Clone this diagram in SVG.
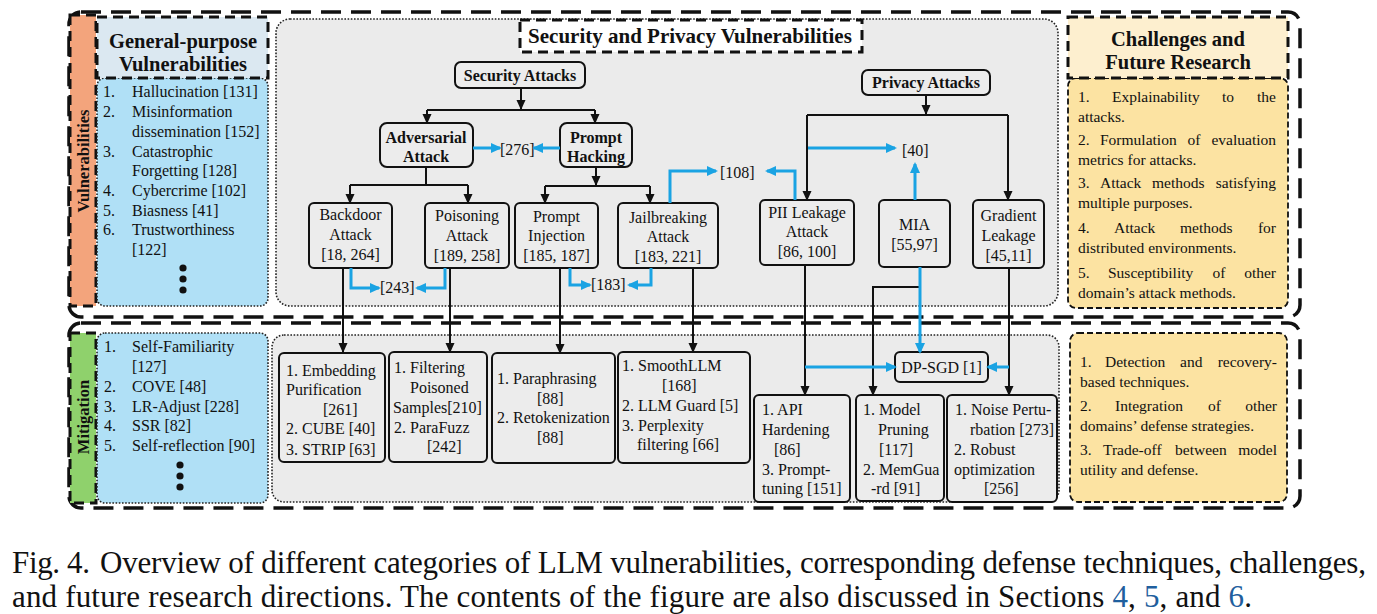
<svg xmlns="http://www.w3.org/2000/svg" width="1377" height="614" viewBox="0 0 1377 614">
<defs>
<marker id="ak" markerUnits="userSpaceOnUse" markerWidth="10" markerHeight="10" refX="9" refY="5" orient="auto"><path d="M0,0.5 L10,5 L0,9.5 z" fill="#111"/></marker>
<marker id="ab" markerUnits="userSpaceOnUse" markerWidth="11" markerHeight="11" refX="9" refY="5.5" orient="auto"><path d="M0,0.5 L11,5.5 L0,10.5 z" fill="#1aa3e3"/></marker>
<style>
.t{font-family:"Liberation Serif","Times New Roman",serif;font-size:16px;fill:#111}
.s{font-size:15.5px}
.b{font-weight:bold}
.h{font-size:20.5px;font-weight:bold}
.c{text-anchor:middle}
.e{text-anchor:end}
.node{fill:#ececec;stroke:#111;stroke-width:2}
.blk{stroke:#111;stroke-width:2;fill:none}
.blu{stroke:#1aa3e3;stroke-width:3;fill:none}
.outer{fill:none;stroke:#111;stroke-width:3.5;stroke-dasharray:20 10}
.thick{stroke:#111;stroke-width:3;stroke-dasharray:10 6}
.dot{stroke:#222;stroke-width:1.6;stroke-dasharray:1.6 1.6}
.thin{stroke:#111;stroke-width:1.8;stroke-dasharray:6 3}
.cap{font-family:"Liberation Serif","Times New Roman",serif;font-size:31px;fill:#111}
</style>
</defs>
<rect width="1377" height="614" fill="#fff"/>

<g id="containers">
<rect class="outer" x="69" y="12" width="1231" height="305" rx="12"/>
<rect class="outer" x="69" y="323" width="1231" height="185" rx="12"/>
<rect x="276" y="19" width="782" height="287" rx="14" fill="#ebebeb" class="dot"/>
<rect x="272" y="335" width="787" height="167" rx="12" fill="#ebebeb" class="dot"/>
</g>

<g id="label-vulnerabilities">
<rect x="70" y="15" width="26" height="291" fill="#f3a47c" class="thick"/>
<text class="t b" style="font-size:16.5px" text-anchor="middle" transform="translate(83,161) rotate(-90)" x="0" y="6">Vulnerabilities</text>
</g>
<g id="label-mitigation">
<rect x="70" y="333" width="26" height="170" fill="#8fd16c" class="thick"/>
<text class="t b" style="font-size:16.5px" text-anchor="middle" transform="translate(83,417) rotate(-90)" x="0" y="6">Mitigation</text>
</g>

<g id="general-purpose">
<rect x="97" y="78" width="171" height="228" rx="8" fill="#b0e0f6" class="dot"/>
<rect x="97" y="17" width="171" height="61" fill="#dbe8f1" class="thick"/>
<text class="t h c" x="183" y="48">General-purpose</text>
<text class="t h c" x="183" y="71">Vulnerabilities</text>
<text class="t"><tspan x="103" y="97">1.</tspan><tspan x="132" y="97">Hallucination [131]</tspan>
<tspan x="103" y="117">2.</tspan><tspan x="132" y="117">Misinformation</tspan>
<tspan x="132" y="137">dissemination [152]</tspan>
<tspan x="103" y="157">3.</tspan><tspan x="132" y="157">Catastrophic</tspan>
<tspan x="132" y="176">Forgetting [128]</tspan>
<tspan x="103" y="196">4.</tspan><tspan x="132" y="196">Cybercrime [102]</tspan>
<tspan x="103" y="216">5.</tspan><tspan x="132" y="216">Biasness [41]</tspan>
<tspan x="103" y="235">6.</tspan><tspan x="132" y="235">Trustworthiness</tspan>
<tspan x="132" y="255">[122]</tspan></text>
<circle cx="183" cy="268" r="3.6" fill="#111"/><circle cx="183" cy="279" r="3.6" fill="#111"/><circle cx="183" cy="290" r="3.6" fill="#111"/>
</g>

<g id="general-mitigation">
<rect x="97" y="333" width="171" height="170" rx="8" fill="#b0e0f6" class="dot"/>
<text class="t"><tspan x="104" y="352">1.</tspan><tspan x="132" y="352">Self-Familiarity</tspan>
<tspan x="132" y="372">[127]</tspan>
<tspan x="104" y="392">2.</tspan><tspan x="132" y="392">COVE [48]</tspan>
<tspan x="104" y="412">3.</tspan><tspan x="132" y="412">LR-Adjust [228]</tspan>
<tspan x="104" y="431">4.</tspan><tspan x="132" y="431">SSR [82]</tspan>
<tspan x="104" y="451">5.</tspan><tspan x="132" y="451">Self-reflection [90]</tspan></text>
<circle cx="180" cy="465" r="3.6" fill="#111"/><circle cx="180" cy="476" r="3.6" fill="#111"/><circle cx="180" cy="487" r="3.6" fill="#111"/>
</g>

<g id="title">
<rect x="520" y="20" width="342" height="32" fill="#fff" class="thick"/>
<text class="t h c" style="font-size:21px" x="690" y="43">Security and Privacy Vulnerabilities</text>
</g>

<g id="security-attacks"><rect class="node" x="455" y="62" width="130" height="26" rx="6"/><text class="t b c" x="520" y="81">Security Attacks</text></g>
<g id="adversarial-attack"><rect class="node" x="380" y="123" width="93" height="44" rx="7"/><text class="t b c" x="426" y="143">Adversarial</text><text class="t b c" x="426" y="162">Attack</text></g>
<g id="prompt-hacking"><rect class="node" x="560" y="123" width="72" height="44" rx="7"/><text class="t b c" x="596" y="143">Prompt</text><text class="t b c" x="596" y="162">Hacking</text></g>
<g id="ref-276"><text class="t" x="500" y="155">[276]</text></g>

<g id="backdoor"><rect class="node" x="309" y="203" width="83" height="65" rx="5"/><text class="t c" x="350.5" y="220">Backdoor</text><text class="t c" x="350.5" y="240">Attack</text><text class="t c" x="350.5" y="260">[18, 264]</text></g>
<g id="poisoning"><rect class="node" x="425" y="203" width="84" height="65" rx="5"/><text class="t c" x="467" y="221">Poisoning</text><text class="t c" x="467" y="241">Attack</text><text class="t c" x="467" y="261">[189, 258]</text></g>
<g id="prompt-injection"><rect class="node" x="515" y="203" width="83" height="65" rx="5"/><text class="t c" x="556.5" y="222">Prompt</text><text class="t c" x="556.5" y="241">Injection</text><text class="t c" x="556.5" y="261">[185, 187]</text></g>
<g id="jailbreaking"><rect class="node" x="618" y="203" width="100" height="65" rx="5"/><text class="t c" x="668" y="223">Jailbreaking</text><text class="t c" x="668" y="242">Attack</text><text class="t c" x="668" y="262">[183, 221]</text></g>
<g id="ref-243"><text class="t" x="380" y="293">[243]</text></g>
<g id="ref-183"><text class="t" x="591" y="290">[183]</text></g>
<g id="ref-108"><text class="t" x="720" y="178">[108]</text></g>
<g id="ref-40"><text class="t" x="902" y="156">[40]</text></g>

<g id="privacy-attacks"><rect class="node" x="862" y="70" width="128" height="25" rx="6"/><text class="t b c" x="926" y="88">Privacy Attacks</text></g>
<g id="pii-leakage"><rect class="node" x="760" y="200" width="94" height="65" rx="5"/><text class="t c" x="807" y="218">PII Leakage</text><text class="t c" x="807" y="237">Attack</text><text class="t c" x="807" y="257">[86, 100]</text></g>
<g id="mia"><rect class="node" x="879" y="200" width="71" height="67" rx="5"/><text class="t c" x="914.5" y="230">MIA</text><text class="t c" x="914.5" y="250">[55,97]</text></g>
<g id="gradient-leakage"><rect class="node" x="973" y="200" width="71" height="68" rx="5"/><text class="t c" x="1008.5" y="221">Gradient</text><text class="t c" x="1008.5" y="241">Leakage</text><text class="t c" x="1008.5" y="261">[45,11]</text></g>

<g id="challenges">
<rect x="1068" y="78" width="220" height="230" rx="8" fill="#fce3a2" class="thin"/>
<rect x="1068" y="17" width="220" height="61" fill="#fdefcf" class="thick"/>
<text class="t h c" x="1178" y="46">Challenges and</text>
<text class="t h c" x="1178" y="69">Future Research</text>
<g class="t s">
<text x="1078" y="102">1.</text><text x="1112" y="102">Explainability</text><text x="1222" y="102">to</text><text class="e" x="1276" y="102">the</text>
<text x="1078" y="122">attacks.</text>
<text x="1078" y="145">2.</text><text x="1100" y="145">Formulation</text><text x="1187.5" y="145">of</text><text class="e" x="1276" y="145">evaluation</text>
<text x="1078" y="165">metrics for attacks.</text>
<text x="1078" y="188">3.</text><text x="1100" y="188">Attack</text><text x="1152" y="188">methods</text><text class="e" x="1276" y="188">satisfying</text>
<text x="1078" y="208">multiple purposes.</text>
<text x="1078" y="233">4.</text><text x="1114" y="233">Attack</text><text x="1180" y="233">methods</text><text class="e" x="1276" y="233">for</text>
<text x="1078" y="253">distributed environments.</text>
<text x="1078" y="278">5.</text><text x="1108" y="278">Susceptibility</text><text x="1212.5" y="278">of</text><text class="e" x="1276" y="278">other</text>
<text x="1078" y="298">domain’s attack methods.</text>
</g>
</g>

<g id="mit-embedding"><rect class="node" x="279" y="353" width="106" height="109" rx="5"/>
<text class="t"><tspan x="286" y="376">1. Embedding</tspan><tspan x="286" y="395">Purification</tspan><tspan x="323" y="415">[261]</tspan><tspan x="286" y="434">2. CUBE [40]</tspan><tspan x="286" y="455">3. STRIP [63]</tspan></text></g>
<g id="mit-filtering"><rect class="node" x="389" y="352" width="98" height="110" rx="5"/>
<text class="t"><tspan x="394" y="373">1. Filtering</tspan><tspan x="410" y="393">Poisoned</tspan><tspan x="393" y="413">Samples[210]</tspan><tspan x="394" y="433">2. ParaFuzz</tspan><tspan x="427" y="452">[242]</tspan></text></g>
<g id="mit-paraphrasing"><rect class="node" x="492" y="353" width="123" height="110" rx="5"/>
<text class="t"><tspan x="497" y="384">1. Paraphrasing</tspan><tspan x="537" y="404">[88]</tspan><tspan x="497" y="423">2. Retokenization</tspan><tspan x="537" y="443">[88]</tspan></text></g>
<g id="mit-smoothllm"><rect class="node" x="618" y="352" width="132" height="111" rx="5"/>
<text class="t"><tspan x="622" y="371">1. SmoothLLM</tspan><tspan x="662" y="391">[168]</tspan><tspan x="622" y="411">2. LLM Guard [5]</tspan><tspan x="622" y="431">3. Perplexity</tspan><tspan x="637" y="450">filtering [66]</tspan></text></g>
<g id="dp-sgd"><rect class="node" x="895" y="352" width="93" height="30" rx="5"/><text class="t c" x="941.5" y="373">DP-SGD [1]</text></g>
<g id="mit-api"><rect class="node" x="754" y="395" width="96" height="107" rx="5"/>
<text class="t"><tspan x="762" y="415">1. API</tspan><tspan x="762" y="435">Hardening</tspan><tspan x="774" y="455">[86]</tspan><tspan x="762" y="475">3. Prompt-</tspan><tspan x="762" y="494">tuning [151]</tspan></text></g>
<g id="mit-model"><rect class="node" x="856" y="395" width="88" height="106" rx="5"/>
<text class="t"><tspan x="863" y="415">1. Model</tspan><tspan x="878" y="435">Pruning</tspan><tspan x="879" y="455">[117]</tspan><tspan x="863" y="475">2. MemGua</tspan><tspan x="871" y="494">-rd [91]</tspan></text></g>
<g id="mit-noise"><rect class="node" x="947" y="395" width="110" height="107" rx="5"/>
<text class="t"><tspan x="955" y="415">1. Noise Pertu-</tspan><tspan x="970" y="435">rbation [273]</tspan><tspan x="954" y="455">2. Robust</tspan><tspan x="954" y="475">optimization</tspan><tspan x="984" y="494">[256]</tspan></text></g>

<g id="future-mitigation">
<rect x="1070" y="333" width="217" height="169" rx="8" fill="#fce3a2" class="thin"/>
<g class="t s">
<text x="1080" y="367">1.</text><text x="1105" y="367">Detection</text><text x="1180" y="367">and</text><text class="e" x="1277" y="367">recovery-</text>
<text x="1080" y="387">based techniques.</text>
<text x="1080" y="411">2.</text><text x="1115" y="411">Integration</text><text x="1208" y="411">of</text><text class="e" x="1277" y="411">other</text>
<text x="1080" y="431">domains’ defense strategies.</text>
<text x="1080" y="455">3.</text><text x="1103" y="455">Trade-off</text><text x="1175" y="455">between</text><text class="e" x="1277" y="455">model</text>
<text x="1080" y="475">utility and defense.</text>
</g>
</g>

<g id="connectors">
<path class="blk" d="M521,88 V109" marker-end="url(#ak)"/>
<path class="blk" d="M427,110 H595"/>
<path class="blk" d="M427,110 V123" marker-end="url(#ak)"/>
<path class="blk" d="M595,110 V123" marker-end="url(#ak)"/>
<path class="blk" d="M426,167 V185 M350,185 H468"/>
<path class="blk" d="M350,185 V203" marker-end="url(#ak)"/>
<path class="blk" d="M468,185 V203" marker-end="url(#ak)"/>
<path class="blk" d="M596,167 V185" marker-end="url(#ak)"/>
<path class="blk" d="M545,186 H650"/>
<path class="blk" d="M545,186 V203" marker-end="url(#ak)"/>
<path class="blk" d="M650,186 V203" marker-end="url(#ak)"/>
<path class="blk" d="M926,95 V114" marker-end="url(#ak)"/>
<path class="blk" d="M807,115 H1008"/>
<path class="blk" d="M807,115 V200" marker-end="url(#ak)"/>
<path class="blk" d="M1008,115 V200" marker-end="url(#ak)"/>
<path class="blk" d="M343,268 V352" marker-end="url(#ak)"/>
<path class="blk" d="M450,268 V352" marker-end="url(#ak)"/>
<path class="blk" d="M560,268 V353" marker-end="url(#ak)"/>
<path class="blk" d="M693,268 V352" marker-end="url(#ak)"/>
<path class="blk" d="M805,265 V395" marker-end="url(#ak)"/>
<path class="blk" d="M920,287 H873 V395" marker-end="url(#ak)"/>
<path class="blk" d="M1009,268 V395" marker-end="url(#ak)"/>
<path class="blu" d="M473,148 H500" marker-end="url(#ab)"/>
<path class="blu" d="M560,148 H534" marker-end="url(#ab)"/>
<path class="blu" d="M351,268 V288 H379" marker-end="url(#ab)"/>
<path class="blu" d="M445,268 V288 H417" marker-end="url(#ab)"/>
<path class="blu" d="M570,268 V285 H590" marker-end="url(#ab)"/>
<path class="blu" d="M651,268 V285 H629" marker-end="url(#ab)"/>
<path class="blu" d="M670,203 V171 H716" marker-end="url(#ab)"/>
<path class="blu" d="M795,200 V171 H767" marker-end="url(#ab)"/>
<path class="blu" d="M808,148 H895" marker-end="url(#ab)"/>
<path class="blu" d="M915,200 V164" marker-end="url(#ab)"/>
<path class="blu" d="M920,267 V352" marker-end="url(#ab)"/>
<path class="blu" d="M805,367 H895" marker-end="url(#ab)"/>
<path class="blu" d="M1009,367 H988" marker-end="url(#ab)"/>
</g>

<g id="caption">
<text class="cap" x="12" y="573" textLength="78" lengthAdjust="spacing">Fig. 4.</text>
<text class="cap" x="100" y="573" textLength="1266" lengthAdjust="spacing">Overview of different categories of LLM vulnerabilities, corresponding defense techniques, challenges,</text>
<text class="cap" x="12" y="607" textLength="1240" lengthAdjust="spacing">and future research directions. The contents of the figure are also discussed in Sections <tspan fill="#1f5f9e">4</tspan>, <tspan fill="#1f5f9e">5</tspan>, and <tspan fill="#1f5f9e">6</tspan>.</text>
</g>
</svg>
